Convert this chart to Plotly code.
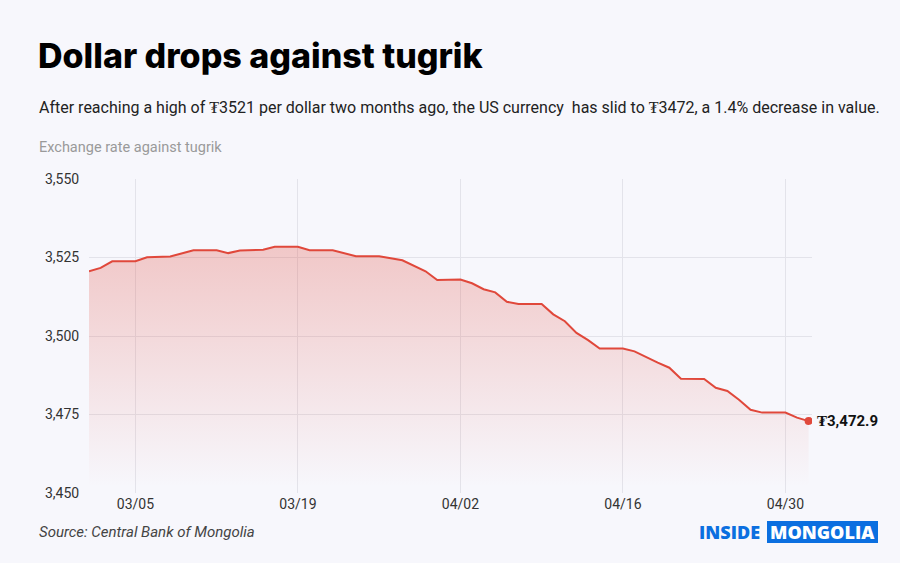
import plotly.graph_objects as go

# exchange rate, USD -> MNT (vertices)
dates = ["2023-03-01", "2023-03-02", "2023-03-03", "2023-03-05", "2023-03-06",
         "2023-03-08", "2023-03-10", "2023-03-12", "2023-03-13", "2023-03-14",
         "2023-03-16", "2023-03-17", "2023-03-19", "2023-03-20", "2023-03-22",
         "2023-03-24", "2023-03-26", "2023-03-28", "2023-03-30", "2023-03-31",
         "2023-04-02", "2023-04-03", "2023-04-04", "2023-04-05", "2023-04-06",
         "2023-04-07", "2023-04-09", "2023-04-10", "2023-04-11", "2023-04-12",
         "2023-04-13", "2023-04-14", "2023-04-16", "2023-04-17", "2023-04-19",
         "2023-04-20", "2023-04-21", "2023-04-23", "2023-04-24", "2023-04-25",
         "2023-04-26", "2023-04-27", "2023-04-28", "2023-04-30", "2023-05-01",
         "2023-05-02"]
rates = [3520.6, 3521.7, 3523.8, 3523.8, 3525.1,
         3525.3, 3527.3, 3527.3, 3526.4, 3527.2,
         3527.5, 3528.4, 3528.4, 3527.3, 3527.3,
         3525.4, 3525.4, 3524.1, 3520.6, 3517.8,
         3518.0, 3516.8, 3514.9, 3513.9, 3510.9,
         3510.2, 3510.2, 3506.9, 3504.7, 3501.0,
         3498.7, 3496.0, 3496.0, 3495.1, 3491.5,
         3489.9, 3486.4, 3486.3, 3483.5, 3482.5,
         3479.7, 3476.5, 3475.6, 3475.6, 3474.0,
         3472.9]

tick_dates = ["2023-03-05", "2023-03-19", "2023-04-02", "2023-04-16", "2023-04-30"]
tick_text = ["03/05", "03/19", "04/02", "04/16", "04/30"]
y_ticks = [3450, 3475, 3500, 3525, 3550]

RED = "#e0483b"
BLUE = "#0b6fe0"
BG = "#f7f7fc"
FONT = "Roboto"

# plot area in pixels, used to place the text around it
L, R, T, B = 89, 812, 179, 493
def px(x): return (x - L) / (R - L)
def py(y): return (B - y) / (B - T)

fig = go.Figure()

fig.add_trace(go.Scatter(
    x=dates, y=rates, mode="lines",
    line=dict(color=RED, width=2),
    fill="tozeroy",
    fillgradient=dict(type="vertical", start=3452, stop=3528,
                      colorscale=[[0, "rgba(224,72,59,0)"], [1, "rgba(224,72,59,0.27)"]]),
    hoverinfo="skip", showlegend=False
))

fig.add_trace(go.Scatter(
    x=dates[-1:], y=rates[-1:], mode="markers",
    marker=dict(color=RED, size=8),
    showlegend=False
))

fig.add_annotation(x=dates[-1], y=rates[-1], xref="x", yref="y",
                   text="<b>₮{:,.1f}</b>".format(rates[-1]), showarrow=False,
                   xanchor="left", xshift=6, font=dict(size=15, color="#111", family=FONT))

texts = [
    dict(x=px(36), y=py(55), text="Dollar drops against tugrik",
         font=dict(size=34, color="#000", family="Inter", weight=800)),
    dict(x=px(37), y=py(107),
         text="After reaching a high of ₮3521 per dollar two months ago, the US currency \u00a0has slid to ₮3472, a 1.4% decrease in value.",
         font=dict(size=16, color="#222", family=FONT)),
    dict(x=px(37), y=py(148), text="Exchange rate against tugrik",
         font=dict(size=14.5, color="#9a9a9a", family=FONT)),
    dict(x=px(37), y=py(532), text="<i>Source: Central Bank of Mongolia</i>",
         font=dict(size=15, color="#444", family=FONT)),
    dict(x=px(697), y=py(532), text="INSIDE",
         font=dict(size=18, color=BLUE, family="Open Sans", weight=800)),
]
for t in texts:
    fig.add_annotation(xref="paper", yref="paper", showarrow=False,
                       xanchor="left", yanchor="middle", **t)

fig.add_shape(type="rect", xref="paper", yref="paper",
              x0=px(767), x1=px(878), y0=py(543), y1=py(521),
              fillcolor=BLUE, line=dict(width=0), layer="above")
fig.add_annotation(xref="paper", yref="paper", x=px(822.5), y=py(532),
                   text="MONGOLIA", showarrow=False,
                   xanchor="center", yanchor="middle",
                   font=dict(size=18, color="white", family="Open Sans", weight=800))

fig.update_layout(
    width=900, height=563,
    paper_bgcolor=BG, plot_bgcolor=BG,
    margin=dict(l=L, r=900 - R, t=T, b=563 - B),
    font=dict(family=FONT, size=14, color="#333"),
    xaxis=dict(range=["2023-03-01", "2023-05-02 07:00"],
               tickvals=tick_dates, ticktext=tick_text,
               showgrid=True, gridcolor="#e3e3ea", gridwidth=1,
               zeroline=False, showline=False, ticks="",
               ticklabelstandoff=1),
    yaxis=dict(range=[3450, 3550], tickvals=y_ticks, tickformat=",",
               showgrid=True, gridcolor="#e3e3ea", gridwidth=1,
               zeroline=False, showline=False,
               ticks="outside", ticklen=6, tickcolor="rgba(0,0,0,0)"),
)

fig.write_html("out.html", config={"displayModeBar": False},
               post_script="document.body.style.margin='0';")
